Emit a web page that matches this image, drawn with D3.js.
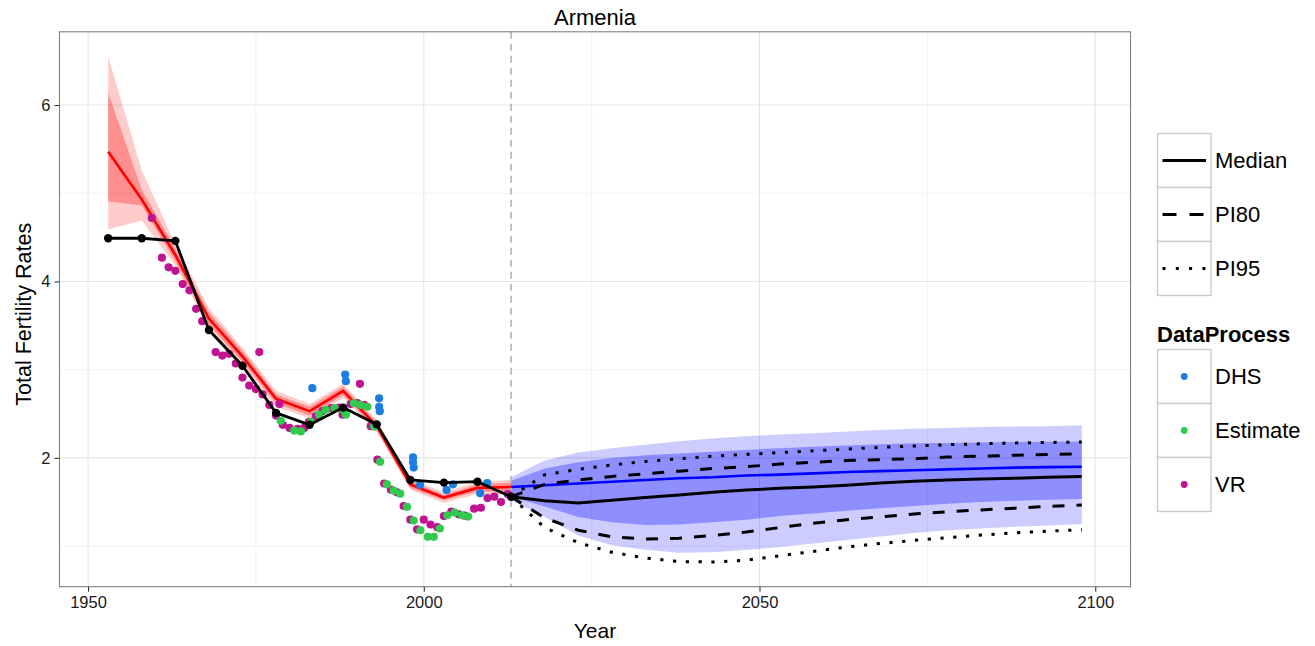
<!DOCTYPE html>
<html>
<head>
<meta charset="utf-8">
<script src="https://cdn.jsdelivr.net/npm/d3@7"></script>
<style>
  body { margin: 0; background: #fff; }
  svg { display: block; }
  text { font-family: "Liberation Sans", Arial, Helvetica, sans-serif; }
</style>
</head>
<body>
<svg id="chart" width="1315" height="646"></svg>
<script>
// ---- Estimation period (five-year periods, mid-year) ----
const estYears  = [1953, 1958, 1963, 1968, 1973, 1978, 1983, 1988, 1993, 1998, 2003, 2008, 2013];
const estMedian = [5.47, 4.93, 4.30, 3.58, 3.15, 2.67, 2.53, 2.76, 2.36, 1.70, 1.55, 1.66, 1.67];
const estLo95   = [4.59, 4.69, 4.18, 3.46, 3.05, 2.58, 2.45, 2.68, 2.29, 1.64, 1.49, 1.59, 1.59];
const estLo80   = [4.91, 4.86, 4.23, 3.51, 3.09, 2.62, 2.48, 2.71, 2.32, 1.66, 1.52, 1.62, 1.62];
const estHi80   = [6.14, 5.04, 4.37, 3.65, 3.21, 2.72, 2.58, 2.81, 2.40, 1.74, 1.58, 1.70, 1.72];
const estHi95   = [6.55, 5.26, 4.42, 3.70, 3.25, 2.76, 2.61, 2.84, 2.43, 1.76, 1.61, 1.73, 1.75];
// Published (WPP) estimates drawn as the black line with points
const wppTFR    = [4.49, 4.49, 4.46, 3.45, 3.045, 2.51, 2.375, 2.57, 2.38, 1.75, 1.72, 1.73, 1.56];

// ---- Projection period ----
const projYears  = [2013, 2018, 2023, 2028, 2033, 2038, 2043, 2048, 2053, 2058, 2063, 2068, 2073, 2078, 2083, 2088, 2093, 2098];
const projMedian = [1.67, 1.69, 1.71, 1.73, 1.75, 1.77, 1.78, 1.80, 1.81, 1.825, 1.84, 1.85, 1.86, 1.87, 1.88, 1.89, 1.895, 1.90];
const projLo95   = [1.52, 1.33, 1.12, 1.01, 0.96, 0.925, 0.93, 0.955, 0.99, 1.03, 1.07, 1.11, 1.15, 1.18, 1.20, 1.22, 1.235, 1.25];
const projLo80   = [1.56, 1.45, 1.33, 1.27, 1.24, 1.245, 1.27, 1.30, 1.34, 1.37, 1.40, 1.43, 1.455, 1.48, 1.50, 1.515, 1.525, 1.535];
const projHi80   = [1.74, 1.88, 1.95, 2.00, 2.03, 2.05, 2.07, 2.09, 2.11, 2.125, 2.14, 2.155, 2.165, 2.17, 2.175, 2.18, 2.183, 2.185];
const projHi95   = [1.78, 1.97, 2.06, 2.11, 2.15, 2.19, 2.22, 2.245, 2.265, 2.28, 2.30, 2.315, 2.33, 2.34, 2.35, 2.355, 2.36, 2.37];
// WPP projection: median and prediction intervals (black lines)
const wppMedian  = [1.56, 1.515, 1.49, 1.52, 1.55, 1.58, 1.61, 1.635, 1.655, 1.67, 1.69, 1.715, 1.735, 1.75, 1.76, 1.77, 1.78, 1.79];
const wppLo80    = [1.56, 1.32, 1.18, 1.105, 1.08, 1.09, 1.12, 1.16, 1.21, 1.26, 1.30, 1.33, 1.365, 1.39, 1.41, 1.43, 1.45, 1.465];
const wppHi80    = [1.56, 1.70, 1.75, 1.79, 1.82, 1.85, 1.88, 1.90, 1.93, 1.95, 1.97, 1.98, 1.99, 2.01, 2.02, 2.03, 2.04, 2.045];
const wppLo95    = [1.56, 1.21, 1.04, 0.93, 0.865, 0.825, 0.82, 0.84, 0.89, 0.94, 0.99, 1.03, 1.065, 1.095, 1.125, 1.15, 1.17, 1.185];
const wppHi95    = [1.56, 1.81, 1.87, 1.92, 1.96, 1.99, 2.02, 2.04, 2.06, 2.08, 2.10, 2.12, 2.135, 2.15, 2.16, 2.17, 2.175, 2.18];

// ---- Observations by data process ----
const vrYears = [1959.5, 1961.0, 1962.0, 1963.0, 1964.1, 1965.1, 1966.1, 1967.0, 1969.0, 1970.0, 1971.0, 1972.0, 1973.0, 1974.0, 1975.0, 1975.5, 1976.0, 1977.0, 1978.0, 1978.5, 1979.0, 1980.0, 1981.2, 1982.2, 1982.9, 1983.9, 1984.9, 1986.2, 1987.4, 1987.9, 1989.1, 1990.1, 1990.5, 1991.1, 1992.1, 1993.1, 1994.1, 1995.1, 1996.0, 1997.0, 1998.0, 1999.0, 2000.0, 2001.0, 2002.0, 2003.0, 2004.1, 2005.2, 2006.1, 2007.5, 2008.5, 2009.5, 2010.5, 2011.5, 2012.5];
const vrTFR   = [4.72, 4.27, 4.16, 4.12, 3.97, 3.90, 3.69, 3.55, 3.20, 3.16, 3.18, 3.07, 2.91, 2.82, 2.78, 3.20, 2.72, 2.60, 2.48, 2.61, 2.375, 2.34, 2.33, 2.34, 2.41, 2.47, 2.53, 2.565, 2.57, 2.49, 2.61, 2.62, 2.84, 2.60, 2.36, 1.98, 1.71, 1.64, 1.61, 1.455, 1.30, 1.19, 1.30, 1.245, 1.215, 1.34, 1.39, 1.36, 1.345, 1.425, 1.435, 1.545, 1.56, 1.50, 1.59];
const estimateYears = [1978.7, 1980.7, 1981.7, 1983.2, 1984.4, 1985.4, 1986.7, 1987.9, 1988.4, 1989.6, 1990.6, 1991.6, 1992.6, 1993.5, 1994.5, 1995.5, 1996.5, 1997.5, 1998.5, 1999.5, 2000.6, 2001.5, 2002.4, 2003.5, 2004.6, 2005.7, 2006.6];
const estimateTFR   = [2.42, 2.31, 2.30, 2.41, 2.49, 2.545, 2.565, 2.55, 2.49, 2.62, 2.60, 2.58, 2.355, 1.955, 1.70, 1.63, 1.595, 1.445, 1.29, 1.18, 1.105, 1.105, 1.20, 1.35, 1.38, 1.35, 1.335];
const dhsYears = [1983.4, 1988.3, 1988.4, 1993.35, 1993.35, 1993.45, 1998.4, 1998.4, 1998.5, 1999.45, 2003.4, 2004.35, 2008.4, 2009.45];
const dhsTFR   = [2.79, 2.945, 2.87, 2.675, 2.58, 2.53, 2.005, 1.95, 1.89, 1.695, 1.635, 1.70, 1.60, 1.715];

// ---- Axes ----
const xMajor = [1950, 2000, 2050, 2100];
const xMinor = [1975, 2025, 2075];
const yMajor = [2, 4, 6];
const yMinor = [1, 3, 5];
const lastObservedYear = 2013;

const chartTitle = "Armenia";
const xTitle = "Year";
const yTitle = "Total Fertility Rates";
const lineTypeLabels = ["Median", "PI80", "PI95"];
const processTitle = "DataProcess";
const processLabels = ["DHS", "Estimate", "VR"];
const processColors = ["#1a7fe0", "#2ecb4c", "#bf138f"];

// ---- Layout ----
const svg = d3.select("#chart");
const panel = { left: 59.5, right: 1130.5, top: 31.8, bottom: 586.7 };

const x = d3.scaleLinear().domain([1945.75, 2105.25]).range([panel.left, panel.right]);
const y = d3.scaleLinear().domain([0.54, 6.83]).range([panel.bottom, panel.top]);

const zip = (xs, ...cols) => xs.map((v, i) => [v, ...cols.map(c => c[i])]);

// panel background and grid
svg.append("rect").attr("x", panel.left).attr("y", panel.top)
  .attr("width", panel.right - panel.left).attr("height", panel.bottom - panel.top)
  .attr("fill", "#fff");

const grid = svg.append("g");
grid.selectAll(".xminor").data(xMinor).join("line")
  .attr("x1", d => x(d)).attr("x2", d => x(d)).attr("y1", panel.top).attr("y2", panel.bottom)
  .attr("stroke", "#f2f2f2").attr("stroke-width", 1);
grid.selectAll(".yminor").data(yMinor).join("line")
  .attr("y1", d => y(d)).attr("y2", d => y(d)).attr("x1", panel.left).attr("x2", panel.right)
  .attr("stroke", "#f2f2f2").attr("stroke-width", 1);
grid.selectAll(".xmajor").data(xMajor).join("line")
  .attr("x1", d => x(d)).attr("x2", d => x(d)).attr("y1", panel.top).attr("y2", panel.bottom)
  .attr("stroke", "#e5e5e5").attr("stroke-width", 1.1);
grid.selectAll(".ymajor").data(yMajor).join("line")
  .attr("y1", d => y(d)).attr("y2", d => y(d)).attr("x1", panel.left).attr("x2", panel.right)
  .attr("stroke", "#e5e5e5").attr("stroke-width", 1.1);

const plot = svg.append("g");

const band = d3.area().x(d => x(d[0])).y0(d => y(d[1])).y1(d => y(d[2]));
const line = d3.line().x(d => x(d[0])).y(d => y(d[1]));

// estimation bands and median
plot.append("path").datum(zip(estYears, estLo95, estHi95)).attr("d", band).attr("fill", "#ff0000").attr("fill-opacity", 0.2);
plot.append("path").datum(zip(estYears, estLo80, estHi80)).attr("d", band).attr("fill", "#ff0000").attr("fill-opacity", 0.3);
plot.append("path").datum(zip(estYears, estMedian)).attr("d", line)
  .attr("fill", "none").attr("stroke", "#ff0000").attr("stroke-width", 2.6);

// projection bands and median
plot.append("path").datum(zip(projYears, projLo95, projHi95)).attr("d", band).attr("fill", "#0000ff").attr("fill-opacity", 0.2);
plot.append("path").datum(zip(projYears, projLo80, projHi80)).attr("d", band).attr("fill", "#0000ff").attr("fill-opacity", 0.3);
plot.append("path").datum(zip(projYears, projMedian)).attr("d", line)
  .attr("fill", "none").attr("stroke", "#0000ff").attr("stroke-width", 2.6);

// vertical marker at the last observed period
plot.append("line").attr("x1", x(lastObservedYear)).attr("x2", x(lastObservedYear))
  .attr("y1", panel.top).attr("y2", panel.bottom)
  .attr("stroke", "#b3b3b3").attr("stroke-width", 1.6).attr("stroke-dasharray", "7,5");

// observations, one layer per data process
const obs = [
  { key: "VR",       years: vrYears,       vals: vrTFR,       color: processColors[2] },
  { key: "Estimate", years: estimateYears, vals: estimateTFR, color: processColors[1] },
  { key: "DHS",      years: dhsYears,      vals: dhsTFR,      color: processColors[0] }
];
obs.forEach(o => {
  plot.append("g").selectAll("circle").data(zip(o.years, o.vals)).join("circle")
    .attr("cx", d => x(d[0])).attr("cy", d => y(d[1])).attr("r", 4.1).attr("fill", o.color);
});

// WPP estimates: black line with points
plot.append("path").datum(zip(estYears, wppTFR)).attr("d", line)
  .attr("fill", "none").attr("stroke", "#000").attr("stroke-width", 2.8).attr("stroke-linejoin", "round");
plot.append("g").selectAll("circle").data(zip(estYears, wppTFR)).join("circle")
  .attr("cx", d => x(d[0])).attr("cy", d => y(d[1])).attr("r", 4.2).attr("fill", "#000");

// WPP projection lines
const dashes = { solid: null, dashed: "12,12", dotted: "3.2,9.6" };
const projLines = [
  { vals: wppMedian, dash: dashes.solid },
  { vals: wppLo80,   dash: dashes.dashed },
  { vals: wppHi80,   dash: dashes.dashed },
  { vals: wppLo95,   dash: dashes.dotted },
  { vals: wppHi95,   dash: dashes.dotted }
];
projLines.forEach(p => {
  plot.append("path").datum(zip(projYears, p.vals)).attr("d", line)
    .attr("fill", "none").attr("stroke", "#000").attr("stroke-width", 3)
    .attr("stroke-dasharray", p.dash);
});

// panel border
svg.append("rect").attr("x", panel.left).attr("y", panel.top)
  .attr("width", panel.right - panel.left).attr("height", panel.bottom - panel.top)
  .attr("fill", "none").attr("stroke", "#7f7f7f").attr("stroke-width", 1.1);

// axes
const xAxis = svg.append("g").attr("transform", `translate(0,${panel.bottom})`)
  .call(d3.axisBottom(x).tickValues(xMajor).tickFormat(d3.format("d")).tickSize(5).tickPadding(5));
const yAxis = svg.append("g").attr("transform", `translate(${panel.left},0)`)
  .call(d3.axisLeft(y).tickValues(yMajor).tickFormat(d3.format("d")).tickSize(5).tickPadding(4));
[xAxis, yAxis].forEach(a => {
  a.select(".domain").remove();
  a.selectAll(".tick line").attr("stroke", "#333").attr("stroke-width", 1.1);
  a.selectAll(".tick text").attr("fill", "#1a1a1a").style("font-size", "16.5px")
    .style("font-family", '"Liberation Sans", Arial, sans-serif');
});

// titles
svg.append("text").attr("x", (panel.left + panel.right) / 2).attr("y", 25)
  .attr("text-anchor", "middle").style("font-size", "22px").text(chartTitle);
svg.append("text").attr("x", (panel.left + panel.right) / 2).attr("y", 638)
  .attr("text-anchor", "middle").style("font-size", "21px").text(xTitle);
svg.append("text").attr("transform", `translate(30.5,${(panel.top + panel.bottom) / 2 + 5}) rotate(-90)`)
  .attr("text-anchor", "middle").style("font-size", "21.5px").text(yTitle);

// legend: line types
const key = { x: 1157.5, w: 53.5, h: 54 };
const lgLine = svg.append("g");
const lineDash = [dashes.solid, "14,13", "3,10.3"];
lineTypeLabels.forEach((lab, i) => {
  const top = 133.5 + i * key.h;
  lgLine.append("rect").attr("x", key.x).attr("y", top).attr("width", key.w).attr("height", key.h)
    .attr("fill", "#fff").attr("stroke", "#cccccc").attr("stroke-width", 1.4);
  lgLine.append("line").attr("x1", key.x + 5).attr("x2", key.x + key.w - 5)
    .attr("y1", top + key.h / 2).attr("y2", top + key.h / 2)
    .attr("stroke", "#000").attr("stroke-width", 3).attr("stroke-dasharray", lineDash[i]);
  lgLine.append("text").attr("x", key.x + key.w + 4).attr("y", top + key.h / 2 + 7.5)
    .style("font-size", "22px").text(lab);
});

// legend: data process
const lgProc = svg.append("g");
lgProc.append("text").attr("x", key.x - 0.5).attr("y", 341.5)
  .style("font-size", "22px").style("font-weight", "bold").text(processTitle);
processLabels.forEach((lab, i) => {
  const top = 349.5 + i * key.h;
  lgProc.append("rect").attr("x", key.x).attr("y", top).attr("width", key.w).attr("height", key.h)
    .attr("fill", "#fff").attr("stroke", "#cccccc").attr("stroke-width", 1.4);
  lgProc.append("circle").attr("cx", key.x + key.w / 2).attr("cy", top + key.h / 2)
    .attr("r", 3.4).attr("fill", processColors[i]);
  lgProc.append("text").attr("x", key.x + key.w + 4).attr("y", top + key.h / 2 + 7.5)
    .style("font-size", "22px").text(lab);
});
</script>
</body>
</html>
